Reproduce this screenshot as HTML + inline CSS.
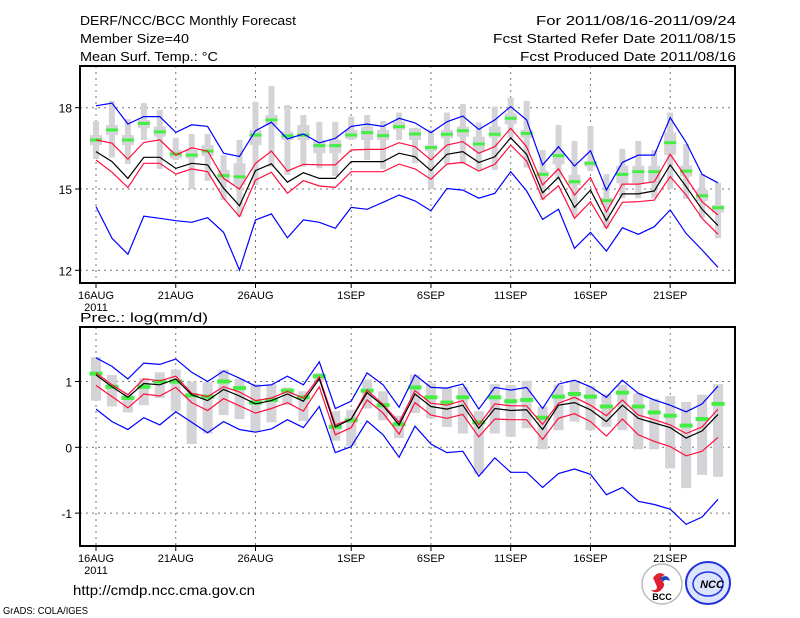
<!DOCTYPE html>
<html><head><meta charset="utf-8"><style>
body{margin:0;background:#fff;width:800px;height:618px;overflow:hidden;font-family:"Liberation Sans",sans-serif;}
svg{display:block}
text{font-family:"Liberation Sans",sans-serif;fill:#000}
</style></head><body>
<svg id="chart" width="800" height="618" viewBox="0 0 800 618" xmlns="http://www.w3.org/2000/svg">
<g font-size="13">
<text x="80" y="25" textLength="216" lengthAdjust="spacingAndGlyphs">DERF/NCC/BCC Monthly Forecast</text>
<text x="80" y="43" textLength="109" lengthAdjust="spacingAndGlyphs">Member Size=40</text>
<text x="80" y="61" textLength="138" lengthAdjust="spacingAndGlyphs">Mean Surf. Temp.: °C</text>
<text x="736" y="25" text-anchor="end" textLength="200" lengthAdjust="spacingAndGlyphs">For 2011/08/16-2011/09/24</text>
<text x="736" y="43" text-anchor="end" textLength="243" lengthAdjust="spacingAndGlyphs">Fcst Started Refer Date 2011/08/15</text>
<text x="736" y="61" text-anchor="end" textLength="216" lengthAdjust="spacingAndGlyphs">Fcst Produced Date 2011/08/16</text>
</g>
<text x="80" y="322" font-size="13" textLength="128" lengthAdjust="spacingAndGlyphs">Prec.: log(mm/d)</text>
<g id="top"></g>
<g id="bot"></g>
<text x="73" y="595" font-size="14" textLength="182" lengthAdjust="spacingAndGlyphs">http://cmdp.ncc.cma.gov.cn</text>
<text x="3" y="614" font-size="10" textLength="85" lengthAdjust="spacingAndGlyphs">GrADS: COLA/IGES</text>
<g>
<circle cx="662" cy="584" r="20" fill="#fff" stroke="#bbb" stroke-width="1.5"/>
<path d="M653 578 q5 -8 12 -3 q-6 2 -3 6 q5 4 -2 10 q-5 3 -9 -1 q6 1 6 -3 q-1 -3 -4 -9z" fill="#e02030"/>
<path d="M660 578 q8 -5 10 3 q-5 -3 -7 1 z" fill="#2040c0"/>
<text x="662" y="600" font-size="9" font-weight="bold" text-anchor="middle" fill="#000">BCC</text>
</g>
<g>
<ellipse cx="708" cy="583" rx="22" ry="21" fill="#dde4ff" stroke="#2233dd" stroke-width="2"/>
<ellipse cx="708" cy="584" rx="15" ry="12" fill="none" stroke="#2233dd" stroke-width="1.5"/>
<text x="712" y="588" font-size="11" font-weight="bold" font-style="italic" text-anchor="middle" fill="#1a2ad0">NCC</text>
</g>
</svg>
<script>
// ---- temperature data (°C), 16AUG..24SEP
const tBlueUp=[18.07,18.17,17.40,17.67,17.67,17.09,17.37,17.31,16.32,16.20,17.15,17.46,16.85,17.03,16.70,16.87,17.31,17.40,17.31,17.61,17.44,17.08,17.48,17.69,17.20,17.55,18.04,17.55,15.89,16.56,15.85,16.41,14.96,15.98,16.25,16.25,17.63,16.72,15.54,15.23];
const tRedUp=[16.81,16.69,16.10,16.72,16.81,16.25,16.52,16.40,15.39,15.00,15.95,16.40,15.66,15.91,15.89,15.89,16.44,16.46,16.46,16.71,16.56,16.07,16.62,16.75,16.32,16.56,17.24,16.56,15.15,15.74,14.78,15.42,14.16,15.18,15.18,15.27,16.28,15.42,14.53,14.04];
const tMean=[16.38,16.01,15.39,16.17,16.17,15.76,15.95,15.89,15.03,14.38,15.68,15.93,15.25,15.60,15.39,15.39,16.01,16.01,16.01,16.32,16.19,15.68,16.28,16.38,15.98,16.19,16.89,16.28,14.86,15.43,14.32,14.96,13.83,14.82,14.82,14.93,15.89,15.09,14.25,13.65];
const tRedLo=[16.07,15.62,15.05,15.95,15.95,15.55,15.74,15.64,14.66,13.98,15.33,15.62,14.84,15.31,15.11,15.06,15.64,15.64,15.64,15.92,15.74,15.36,15.92,15.98,15.66,15.91,16.62,16.03,14.62,15.12,13.92,14.53,13.55,14.51,14.53,14.59,15.46,14.78,13.92,13.33];
const tBlueLo=[14.35,13.18,12.59,14.00,13.92,13.83,13.77,13.94,13.40,12.01,13.86,14.08,13.20,13.86,13.77,13.55,14.32,14.25,14.51,14.78,14.56,14.20,15.02,14.96,14.66,14.84,15.64,14.93,13.88,14.25,12.81,13.40,12.71,13.57,13.33,13.61,14.23,13.36,12.75,12.11];
const tMedian=[16.81,17.18,16.81,17.42,17.11,16.29,16.25,16.40,15.49,15.45,16.99,17.55,16.96,16.99,16.60,16.60,16.99,17.08,16.97,17.30,17.03,16.53,17.02,17.15,16.66,17.02,17.61,17.05,15.54,16.23,15.27,15.95,14.57,15.54,15.64,15.64,16.71,15.66,14.75,14.31];
const tWhiskTop=[17.51,18.25,17.58,18.17,17.92,16.89,17.03,17.03,16.25,16.81,18.22,18.80,18.10,17.73,17.48,17.48,17.67,17.73,17.51,17.82,17.26,17.18,17.82,18.14,17.45,18.04,18.37,18.25,16.44,17.36,16.77,17.32,15.55,16.48,16.77,16.44,17.82,16.66,15.55,15.23];
const tWhiskBot=[16.11,16.16,15.92,16.81,15.74,16.07,15.00,15.30,14.59,13.98,15.15,15.82,15.52,15.82,15.76,15.48,16.81,16.07,15.74,16.81,15.95,15.00,15.92,15.92,15.70,15.70,16.89,15.79,14.59,15.39,13.98,15.66,13.55,14.66,14.66,14.66,15.00,14.63,13.94,13.18];
const tBoxTop=[16.99,17.36,16.99,17.55,17.30,16.44,16.44,16.62,15.70,15.95,17.18,17.73,17.12,17.36,16.81,16.81,17.18,17.30,17.18,17.48,17.24,16.62,17.18,17.30,16.93,17.30,17.79,17.18,15.66,16.40,15.52,16.03,14.68,15.86,15.86,15.86,17.09,15.86,14.96,14.41];
const tBoxBot=[16.62,16.99,16.62,17.24,16.93,16.13,16.13,16.22,15.27,15.15,16.62,17.36,16.81,16.81,16.32,16.32,16.85,16.81,16.81,17.18,16.81,16.40,16.87,16.93,16.40,16.89,17.39,16.89,15.39,15.91,15.15,15.82,14.41,15.21,15.21,15.21,16.25,15.46,14.56,14.13];
const tTicks=[18,15,12];
// ---- precipitation data log(mm/d)
const pBlueUp=[1.36,1.23,1.04,1.28,1.26,1.34,1.14,1.00,1.16,1.05,0.93,0.95,1.08,0.95,1.30,0.59,0.70,1.13,0.95,0.61,1.10,0.91,0.90,0.96,0.58,0.91,0.87,0.91,0.59,0.96,1.02,0.92,0.76,1.02,0.82,0.72,0.64,0.54,0.66,0.93];
const pRedUp=[1.13,0.95,0.80,1.04,1.01,1.08,0.82,0.77,0.92,0.84,0.71,0.75,0.85,0.75,1.07,0.34,0.43,0.87,0.65,0.38,0.86,0.67,0.64,0.71,0.34,0.66,0.63,0.63,0.35,0.67,0.76,0.64,0.48,0.72,0.49,0.42,0.34,0.21,0.31,0.58];
const pMean=[1.10,0.92,0.76,0.97,0.95,1.04,0.80,0.71,0.88,0.78,0.66,0.71,0.81,0.70,1.04,0.31,0.43,0.83,0.63,0.34,0.81,0.62,0.58,0.64,0.29,0.59,0.56,0.57,0.27,0.64,0.68,0.57,0.39,0.64,0.44,0.37,0.30,0.14,0.25,0.50];
const pRedLo=[0.94,0.77,0.60,0.81,0.78,0.91,0.68,0.56,0.74,0.63,0.52,0.59,0.68,0.55,0.92,0.19,0.30,0.72,0.52,0.20,0.68,0.49,0.44,0.50,0.16,0.43,0.42,0.42,0.12,0.44,0.51,0.39,0.17,0.43,0.19,0.09,0.01,-0.13,-0.06,0.15];
const pBlueLo=[0.58,0.39,0.27,0.45,0.34,0.54,0.38,0.22,0.39,0.27,0.23,0.28,0.42,0.30,0.62,-0.08,0.01,0.40,0.19,-0.15,0.32,0.05,-0.08,-0.06,-0.44,-0.16,-0.38,-0.38,-0.61,-0.40,-0.33,-0.41,-0.72,-0.61,-0.82,-0.87,-0.94,-1.17,-1.06,-0.79];
const pMedian=[1.12,0.92,0.75,0.92,1.00,1.00,0.79,0.77,1.00,0.90,0.68,0.72,0.86,0.76,1.08,0.31,0.41,0.86,0.64,0.35,0.91,0.76,0.68,0.76,0.38,0.76,0.70,0.72,0.45,0.77,0.81,0.77,0.62,0.83,0.62,0.53,0.48,0.33,0.43,0.66];
const pWhiskTop=[1.37,1.10,0.82,1.05,1.14,1.18,1.00,0.99,1.18,1.04,0.96,0.96,0.91,0.85,1.13,0.55,0.57,1.03,0.85,0.48,1.10,0.97,0.90,0.92,0.55,0.96,0.95,1.01,0.62,0.95,1.00,0.93,0.81,0.95,0.82,0.74,0.78,0.69,0.80,0.96];
const pWhiskBot=[0.71,0.62,0.53,0.64,0.75,0.55,0.05,0.21,0.49,0.43,0.24,0.38,0.64,0.40,1.00,0.10,0.02,0.59,0.41,0.14,0.52,0.44,0.31,0.21,-0.40,0.21,0.16,0.29,-0.03,0.26,0.39,0.26,0.31,0.26,-0.03,-0.03,-0.32,-0.62,-0.42,-0.45];
const pTicks=[1,0,-1];
const dateTicks=[0,5,10,16,21,26,31,36];
const dateLabels=["16AUG","21AUG","26AUG","1SEP","6SEP","11SEP","16SEP","21SEP"];

const NS="http://www.w3.org/2000/svg";
const X0=80,X1=735;
function xDay(i){return 96+15.95*i;}
function mk(parent,tag,attrs){const e=document.createElementNS(NS,tag);for(const k in attrs)e.setAttribute(k,attrs[k]);parent.appendChild(e);return e;}

function panel(g,cfg){
  const {top,bot,yOf,ticks,series,med,wt,wb,bt,bb,wW,bW,gW,gH,name}=cfg;
  dateTicks.forEach(d=>{const l=mk(g,'line',{x1:xDay(d),x2:xDay(d),y1:top,y2:bot,stroke:'#777','stroke-width':1,'stroke-dasharray':'2,4'});
    
    });
  ticks.forEach(v=>{const y=yOf(v);const l=mk(g,'line',{x1:X0,x2:X1,y1:y,y2:y,stroke:'#777','stroke-width':1,'stroke-dasharray':'2,4'});
    
    
    const t=mk(g,'text',{x:X0-8,y:y+5,'font-size':12,'text-anchor':'end'});t.textContent=String(v);
    
    
    mk(g,'line',{x1:X0-5,x2:X0,y1:y,y2:y,stroke:'#000'});});
  for(let i=0;i<med.length;i++){
    const x=xDay(i);
    const w=mk(g,'rect',{x:x-wW/2,y:yOf(wt[i]),width:wW,height:Math.max(1,yOf(wb[i])-yOf(wt[i])),fill:'#d4d4d8'});
    
    
    if(bt){const b=mk(g,'rect',{x:x-bW/2,y:yOf(bt[i]),width:bW,height:Math.max(1,yOf(bb[i])-yOf(bt[i])),fill:'#d4d4d8'});
      
      }
  }
  for(let i=0;i<med.length;i++){
    const r=mk(g,'rect',{x:xDay(i)-gW/2,y:yOf(med[i])-gH/2,width:gW,height:gH,fill:'#44ee44'});
    
    
  }
  series.forEach(s=>{
    const p=mk(g,'polyline',{points:s.d.map((v,i)=>xDay(i).toFixed(1)+','+yOf(v).toFixed(1)).join(' '),fill:'none',stroke:s.c,'stroke-width':1.2});
    
    
  });
  const f=mk(g,'rect',{x:X0,y:top,width:X1-X0,height:bot-top,fill:'none',stroke:'#000','stroke-width':2});
  
  
  dateTicks.forEach((d,k)=>{
    mk(g,'line',{x1:xDay(d),x2:xDay(d),y1:bot,y2:bot+5,stroke:'#000'});
    const t=mk(g,'text',{x:xDay(d),y:bot+16,'font-size':11,'text-anchor':'middle'});t.textContent=dateLabels[k];
    
    
  });
  const yr=mk(g,'text',{x:xDay(0),y:bot+28,'font-size':11,'text-anchor':'middle'});yr.textContent='2011';
  
  
}
panel(document.getElementById('top'),{name:'temp',top:66,bot:283,yOf:v=>189-(v-15)*27.1,ticks:tTicks,
  med:tMedian,wt:tWhiskTop,wb:tWhiskBot,bt:tBoxTop,bb:tBoxBot,wW:6,bW:12,gW:12,gH:3,
  series:[{n:'blue-upper',d:tBlueUp,c:'#0000ff'},{n:'red-upper',d:tRedUp,c:'#ff1040'},{n:'mean-line',d:tMean,c:'#000'},{n:'red-lower',d:tRedLo,c:'#ff1040'},{n:'blue-lower',d:tBlueLo,c:'#0000ff'}]});
panel(document.getElementById('bot'),{name:'precip',top:327,bot:546,yOf:v=>447.3-v*65.8,ticks:pTicks,
  med:pMedian,wt:pWhiskTop,wb:pWhiskBot,bt:null,bb:null,wW:10,bW:0,gW:13,gH:4,
  series:[{n:'blue-upper',d:pBlueUp,c:'#0000ff'},{n:'red-upper',d:pRedUp,c:'#ff1040'},{n:'mean-line',d:pMean,c:'#000'},{n:'red-lower',d:pRedLo,c:'#ff1040'},{n:'blue-lower',d:pBlueLo,c:'#0000ff'}]});
</script>
</body></html>
